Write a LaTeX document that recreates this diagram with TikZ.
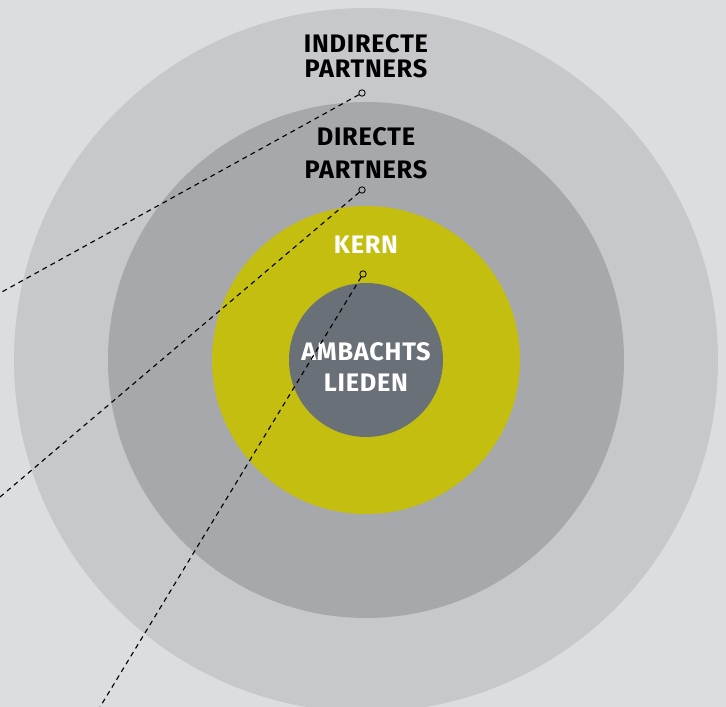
\documentclass[tikz,border=0pt]{standalone}
\usepackage{fontspec}
\setmainfont{Fira Sans}[LetterSpace=3]
\definecolor{bggray}{HTML}{DCDDDF}
\definecolor{ringouter}{HTML}{C7C8CB}
\definecolor{ringmid}{HTML}{A6A8AB}
\definecolor{ringcore}{HTML}{C4BE10}
\definecolor{ringinner}{HTML}{6A7078}
\tikzset{
  ringlabel/.style={font=\bfseries\fontsize{18}{18}\selectfont, align=center},
  endtip/.style={circle, draw, line width=0.6pt, inner sep=0pt, minimum size=0.16cm},
  leader/.style={line width=0.8pt, dash pattern=on 3.5pt off 3pt}
}
\begin{document}
\begin{tikzpicture}[x=0.025cm, y=-0.025cm]
            \useasboundingbox (0,0) rectangle (726,707);
            \clip (0,0) rectangle (726,707);
            \fill[bggray] (0,0) rectangle (726,707);

            \fill[ringouter] (366,360) circle (352);
            \fill[ringmid] (366,360) circle (258);
            \fill[ringcore] (366,360) circle (154);
            \fill[ringinner] (366,360) circle (77);

            \node[ringlabel] (indirect) at (366,56) {INDIRECTE\\PARTNERS};
            \node[ringlabel] (direct) at (366,153) {DIRECTE\\[5.5pt]PARTNERS};
            \node[ringlabel, white] (kern) at (366,245) {KERN};
            \node[ringlabel, white] (ambacht) at (366,367) {AMBACHTS\\[4pt]LIEDEN};

            \node[endtip] (T1) at (362,93) {};
            \node[endtip] (T2) at (362,190) {};
            \node[endtip] (T3) at (363,274) {};
            \coordinate (E1) at (0,293);
            \coordinate (E2) at (0,497);
            \coordinate (E3) at (100,707);

            \draw[leader] (T1) -- (E1); \draw[leader] (T2) -- (E2); \draw[leader] (T3) -- (E3);
        \end{tikzpicture}
\end{document}
